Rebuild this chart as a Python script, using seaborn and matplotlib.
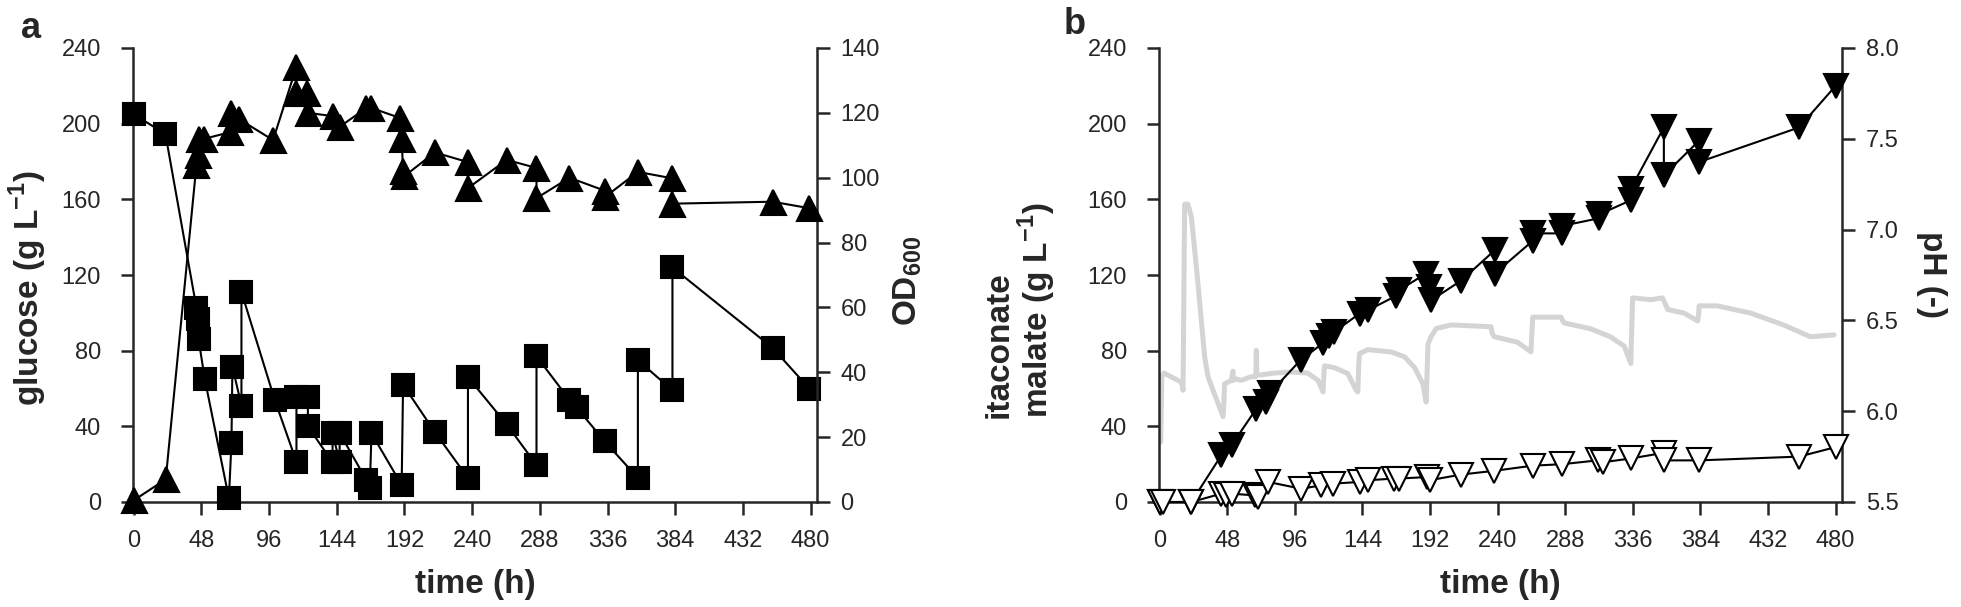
import numpy as np
import pandas as pd
import matplotlib
matplotlib.use("Agg")
import matplotlib.pyplot as plt
import seaborn as sns

# ── Data: panel a (glucose, OD600) ─────────────────────────
glc_time = [0, 22.5, 44.5, 45.5, 46, 50.4, 67.5, 69.3, 70, 76.4, 76.4, 100,
            115.4, 115.4, 123.5, 123.5, 141, 141, 146, 146, 165, 167.4, 168.6,
            190, 191, 213.5, 237, 237, 264.5, 285.6, 285.6, 309, 314, 334,
            357.5, 357.5, 382, 382, 453, 479]
glc_value = [205, 194.5, 102.6, 97, 86, 65, 2, 31, 71.5, 51, 111, 54,
             21.3, 55.7, 55.7, 40, 21, 36.5, 21, 36.5, 11.6, 7.4, 36.3,
             9, 62, 37, 12.7, 66, 41, 19.6, 77, 54, 50, 32,
             12.7, 75, 59, 124, 81.5, 60]

od_time = [0, 22.7, 44.5, 45.5, 46, 50, 68, 69, 75, 98.8, 115.4, 115.4, 122.7,
           123.5, 141, 146, 165, 168.6, 189, 190, 191, 192, 213.5, 237, 237,
           264.5, 285.6, 285.6, 309, 334, 334, 357.5, 382, 382, 453, 479]
od_value = [0.5, 7, 104, 107, 112, 112, 114, 120, 118, 111.6, 134.2, 126, 126,
            120, 119, 115.7, 121.5, 121.5, 118.4, 112, 102, 100.5, 107.8, 104.8, 96.8,
            105.5, 103, 93.7, 100, 96, 94, 101.8, 99.8, 92, 92.6, 90.6]

# ── Data: panel b (itaconate, malate, pH) ──────────────────
ita_time = [0, 22.5, 43.8, 51, 68.7, 75.8, 78, 100, 116, 120, 124, 141.9, 147.8,
            167.9, 170, 189, 191, 192.7, 214, 237.8, 237.8, 264.8, 264.8, 286, 286,
            312, 312, 334.5, 334.5, 358, 358, 383, 383, 454, 480]
ita_value = [0, 0, 24.7, 30, 49.4, 52.9, 57.4, 75, 84, 88, 90, 99.6, 101.3,
             109, 112, 120.7, 113.6, 106.6, 117, 133, 120.7, 138, 142, 142, 146,
             150, 152, 159.5, 165.6, 198, 172.7, 191, 179.7, 198, 220]

mal_time = [0, 2.4, 22.5, 43.8, 47, 51, 67.4, 69.8, 77, 100.5, 114.7, 123, 141.9,
            147.8, 166.7, 170, 190, 191.6, 214, 237.7, 264.9, 286, 311, 314.6,
            334.5, 358, 358, 383, 454, 480]
mal_value = [0, 0, 0, 4.4, 3.5, 4.4, 3.5, 2.6, 10.6, 7, 8.8, 9.7, 10.6,
             11.5, 12.4, 12.4, 13.2, 11.5, 14.5, 16.5, 19.2, 20, 22, 21,
             23, 26, 22, 22, 24, 29]

ph_time = [0.7, 0.9, 1.5, 3, 15.4, 16.6, 17.0, 17.7, 20, 22.5, 27.2, 31.9, 34.3,
           37.9, 45, 45.6, 46, 50.9, 52, 52.5, 53, 58, 65, 68.2, 68.6, 69, 72,
           81.6, 93.4, 105, 112.4, 116, 116.6, 117, 124, 133.6, 139.5, 140.7,
           141.3, 141.9, 147.8, 164.4, 173.8, 181, 186.9, 189.2, 189.8, 190.5,
           192.7, 196.3, 206.9, 235.3, 236, 237.6, 254, 263.6, 264.2, 264.9,
           285, 286, 287.3, 306, 320, 329.9, 334.5, 335.2, 335.8, 349, 357,
           358.5, 360.7, 372.4, 382, 382.8, 383, 396, 419.7, 443, 462, 478.8]
ph_value = [5.83, 5.91, 6.19, 6.21, 6.16, 6.115, 6.5, 7.14, 7.14, 7.07, 6.70, 6.30, 6.19,
            6.115, 5.97, 6.05, 6.15, 6.17, 6.22, 6.17, 6.18, 6.17, 6.19, 6.19, 6.335, 6.2, 6.2,
            6.21, 6.216, 6.21, 6.17, 6.106, 6.2, 6.25, 6.24, 6.207, 6.115, 6.106,
            6.25, 6.317, 6.339, 6.326, 6.30, 6.24, 6.15, 6.05, 6.2, 6.37,
            6.41, 6.455, 6.475, 6.465, 6.43, 6.41, 6.38, 6.327, 6.42, 6.518,
            6.518, 6.5, 6.486, 6.454, 6.41, 6.358, 6.263, 6.45, 6.624, 6.614, 6.624,
            6.6, 6.56, 6.54, 6.497, 6.54, 6.58, 6.58, 6.54, 6.475, 6.41, 6.42]

x_ticks = list(range(0, 481, 48))

# ── Style ──────────────────────────────────────────────────
sns.set_style("ticks")
plt.rcParams['font.family'] = ['Liberation Sans', 'DejaVu Sans']
plt.rcParams['mathtext.fontset'] = 'custom'
plt.rcParams['mathtext.rm'] = 'Liberation Sans'
plt.rcParams['mathtext.bf'] = 'Liberation Sans:bold'

TICK_FS = 17
LABEL_FS = 24
SPINE_W = 1.8
LINE_W = 1.5
W, H = 1961, 607

fig = plt.figure(figsize=(W / 100, H / 100), dpi=100)


def style_axes(ax, right=False):
    ax.spines['top'].set_visible(False)
    if right:
        ax.spines['left'].set_visible(False)
        ax.spines['bottom'].set_visible(False)
        ax.spines['right'].set_linewidth(SPINE_W)
        ax.tick_params(axis='y', direction='out', length=9, width=SPINE_W,
                       labelsize=TICK_FS, pad=8)
    else:
        ax.spines['right'].set_visible(False)
        ax.spines['left'].set_linewidth(SPINE_W)
        ax.spines['bottom'].set_linewidth(SPINE_W)
        ax.tick_params(axis='y', direction='out', length=9, width=SPINE_W,
                       labelsize=TICK_FS, pad=14)
        ax.tick_params(axis='x', direction='out', length=9, width=SPINE_W,
                       labelsize=TICK_FS, pad=11)


def draw_series(ax, t, v, marker, face, ms, zorder=3):
    sns.lineplot(x=t, y=v, ax=ax, estimator=None, sort=False, color='k',
                 lw=LINE_W, marker=marker, markersize=ms, markerfacecolor=face,
                 markeredgecolor='k', markeredgewidth=1.5, zorder=zorder,
                 clip_on=False)


# ── Panel a ───────────────────────────────────────────────
ax_a = fig.add_axes([133 / W, 105 / H, 684 / W, 454 / H])
ax_a2 = ax_a.twinx()

draw_series(ax_a, glc_time, glc_value, 's', 'k', 16)
draw_series(ax_a2, od_time, od_value, '^', 'k', 18)

ax_a.set_xlim(-0.5, 484.5)
ax_a.set_ylim(0, 240)
ax_a.set_yticks(range(0, 241, 40))
ax_a2.set_ylim(0, 140)
ax_a2.set_yticks(range(0, 141, 20))
ax_a.set_xticks(x_ticks)
style_axes(ax_a)
style_axes(ax_a2, right=True)
ax_a.set_xlabel('')
ax_a.set_ylabel('')
ax_a2.set_ylabel('')

fig.text(475 / W, 1 - 584 / H, 'time (h)', fontsize=LABEL_FS, fontweight='bold',
         ha='center', va='center')
fig.text(28 / W, 1 - 288 / H, 'glucose (g L$^{\\mathbf{-1}}$)', rotation=90,
         fontsize=LABEL_FS, fontweight='bold', ha='center', va='center')
fig.text(908 / W, 1 - 281 / H, 'OD$_{\\mathbf{600}}$', rotation=90,
         fontsize=LABEL_FS, fontweight='bold', ha='center', va='center')

# ── Panel b ───────────────────────────────────────────────
ax_b = fig.add_axes([1159 / W, 105 / H, 683 / W, 454 / H])
ax_b2 = ax_b.twinx()
ax_b.set_zorder(ax_b2.get_zorder() + 1)
ax_b.patch.set_visible(False)

sns.lineplot(x=ph_time, y=ph_value, ax=ax_b2, estimator=None, sort=False,
             color='#d4d4d4', lw=3.6)
draw_series(ax_b, ita_time, ita_value, 'v', 'k', 17)
draw_series(ax_b, mal_time, mal_value, 'v', 'white', 17, zorder=4)

ax_b.set_xlim(-0.5, 484.5)
ax_b.set_ylim(0, 240)
ax_b.set_yticks(range(0, 241, 40))
ax_b2.set_ylim(5.5, 8.0)
ax_b2.set_yticks(np.arange(5.5, 8.01, 0.5))
ax_b2.set_yticklabels([f'{v:.1f}' for v in np.arange(5.5, 8.01, 0.5)])
ax_b.set_xticks(x_ticks)
style_axes(ax_b)
style_axes(ax_b2, right=True)
ax_b.set_xlabel('')
ax_b.set_ylabel('')
ax_b2.set_ylabel('')

fig.text(1500 / W, 1 - 584 / H, 'time (h)', fontsize=LABEL_FS, fontweight='bold',
         ha='center', va='center')
fig.text(1931 / W, 1 - 274 / H, 'pH (-)', rotation=270, fontsize=LABEL_FS,
         fontweight='bold', ha='center', va='center')
fig.text(999 / W, 1 - 418 / H, 'itaconate', rotation=90, fontsize=LABEL_FS,
         fontweight='bold', ha='center', va='bottom')
fig.text(1037 / W, 1 - 418 / H, 'malate (g L$^{\\mathbf{-1}}$)', rotation=90,
         fontsize=LABEL_FS, fontweight='bold', ha='center', va='bottom')

# ── Panel letters ─────────────────────────────────────────
fig.text(31 / W, 1 - 28 / H, 'a', fontsize=26, fontweight='bold',
         ha='center', va='center')
fig.text(1075 / W, 1 - 24 / H, 'b', fontsize=26, fontweight='bold',
         ha='center', va='center')

for ax in [ax_a, ax_a2, ax_b, ax_b2]:
    leg = ax.get_legend()
    if leg is not None:
        leg.remove()

fig.savefig('out.png', dpi=100)
